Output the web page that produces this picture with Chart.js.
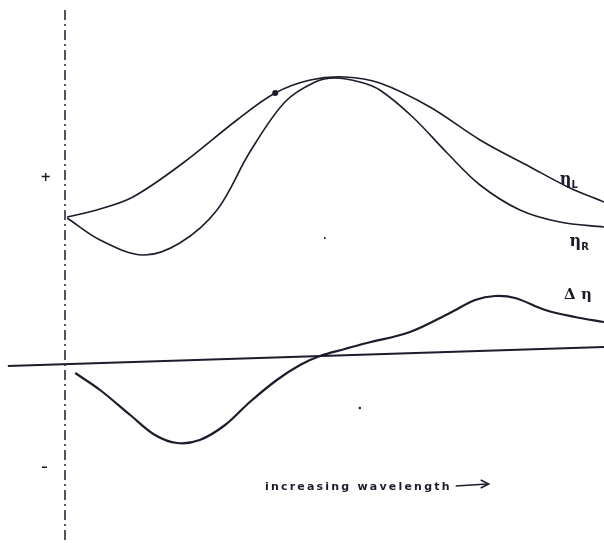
<!DOCTYPE html>
<html>
<head>
<meta charset="utf-8">
<script src="https://cdn.jsdelivr.net/npm/chart.js@4.4.1/dist/chart.umd.min.js"></script>
<style>
  html, body { margin: 0; padding: 0; background: #fff; overflow: hidden; }
  canvas { display: block; }
</style>
</head>
<body>
<canvas id="c" width="604" height="543"></canvas>
<script>
  // wavelength in arbitrary units, 0 = dashed reference line
  var etaLX = [0.4, 6.5, 12.6, 21.9, 31.9, 39.0, 45.5, 51.9, 58.4, 67.7, 77.0, 86.3, 93.7, 100];
  var etaL  = [1.43, 1.51, 1.63, 1.97, 2.40, 2.67, 2.80, 2.83, 2.77, 2.53, 2.20, 1.93, 1.72, 1.58];

  var etaRX = [0.4, 6.5, 14.5, 21.3, 28.2, 34.3, 40.8, 46.4, 50.1, 54.7, 58.4, 64.5, 70.9, 77.0, 84.4, 91.8, 100];
  var etaR  = [1.42, 1.20, 1.05, 1.17, 1.50, 2.08, 2.58, 2.78, 2.82, 2.78, 2.70, 2.43, 2.07, 1.75, 1.50, 1.38, 1.33];

  var dEtaX = [1.9, 6.5, 12.1, 16.7, 20.8, 25.0, 29.7, 34.3, 39.3, 43.6, 47.3, 51.9, 56.0, 64.0, 71.4, 76.1, 79.8, 83.5, 89.1, 94.6, 100];
  var dEta  = [-0.13, -0.30, -0.55, -0.75, -0.83, -0.80, -0.65, -0.42, -0.20, -0.05, 0.04, 0.11, 0.17, 0.28, 0.47, 0.60, 0.64, 0.62, 0.50, 0.43, 0.38];

  var baseX = [-10.6, 100];
  var baseY = [-0.06, 0.13];

  var refX = [0, 0];
  var refY = [3.5, -1.83];

  // stray ink specks on the original drawing
  var speckX = [39.0, 48.2, 54.7];
  var speckY = [2.67, 1.22, -0.48];

  var labels = [
    { text: '+', x: -4.6, y: 1.82, size: 13 },
    { text: '\u2013', x: -4.4, y: -1.08, size: 13 },
    { text: '\u03b7', sub: 'L', x: 91.8, y: 1.80, size: 16 },
    { text: '\u03b7', sub: 'R', x: 93.6, y: 1.18, size: 16 },
    { text: '\u0394 \u03b7', x: 92.6, y: 0.65, size: 15 }
  ];
  var axisTitle = { text: 'increasing wavelength', x: 37.1, y: -1.27 };

  function pts(xs, ys) {
    return xs.map(function (x, i) { return { x: x, y: ys[i] }; });
  }

  var ink = '#1c1c2c';

  var textPlugin = {
    id: 'figText',
    afterDraw: function (chart) {
      var ctx = chart.ctx;
      var sx = chart.scales.x, sy = chart.scales.y;
      ctx.save();
      ctx.fillStyle = ink;
      ctx.textBaseline = 'middle';
      labels.forEach(function (l) {
        var px = sx.getPixelForValue(l.x), py = sy.getPixelForValue(l.y);
        ctx.font = 'bold ' + l.size + 'px "DejaVu Serif"';
        ctx.fillText(l.text, px, py);
        if (l.sub) {
          var w = ctx.measureText(l.text).width;
          ctx.font = 'bold 10px "DejaVu Sans"';
          ctx.fillText(l.sub, px + w, py + 5);
        }
      });
      var tx = sx.getPixelForValue(axisTitle.x), ty = sy.getPixelForValue(axisTitle.y);
      ctx.font = 'bold 11px "DejaVu Sans"';
      ctx.letterSpacing = '2.2px';
      ctx.fillText(axisTitle.text, tx, ty);
      var tw = ctx.measureText(axisTitle.text).width;
      // arrow
      ctx.strokeStyle = ink;
      ctx.lineWidth = 1.6;
      ctx.beginPath();
      ctx.moveTo(tx + tw + 4, ty - 1);
      ctx.lineTo(tx + tw + 36, ty - 3);
      ctx.stroke();
      ctx.beginPath();
      ctx.moveTo(tx + tw + 29, ty - 7);
      ctx.lineTo(tx + tw + 37, ty - 3);
      ctx.lineTo(tx + tw + 29, ty + 1);
      ctx.stroke();
      ctx.restore();
    }
  };

  function line(data, extra) {
    var ds = {
      data: data,
      showLine: true,
      borderColor: ink,
      borderWidth: 2,
      pointRadius: 0,
      pointHoverRadius: 0,
      tension: 0.35,
      fill: false
    };
    for (var k in extra) ds[k] = extra[k];
    return ds;
  }

  new Chart(document.getElementById('c'), {
    type: 'scatter',
    data: {
      datasets: [
        line(pts(etaLX, etaL), { label: '\u03b7L', borderWidth: 1.6 }),
        line(pts(etaRX, etaR), { label: '\u03b7R', borderWidth: 1.6 }),
        line(pts(dEtaX, dEta), { label: '\u0394\u03b7', borderWidth: 2.2 }),
        line(pts(baseX, baseY), { label: 'zero', borderWidth: 1.8, tension: 0 }),
        line(pts(refX, refY), { label: 'ref', borderWidth: 1.5, tension: 0, borderDash: [10, 4, 2, 4] }),
        {
          label: 'specks',
          data: pts(speckX, speckY),
          pointRadius: [3, 1, 1.2],
          pointHoverRadius: 0,
          pointBackgroundColor: ink,
          pointBorderWidth: 0,
          showLine: false
        }
      ]
    },
    options: {
      responsive: false,
      animation: false,
      layout: { padding: 0, autoPadding: false },
      plugins: { legend: { display: false }, tooltip: { enabled: false } },
      scales: {
        x: { type: 'linear', min: -12.06, max: 100, display: false },
        y: { type: 'linear', min: -1.83, max: 3.6, display: false }
      }
    },
    plugins: [textPlugin]
  });
</script>
</body>
</html>
